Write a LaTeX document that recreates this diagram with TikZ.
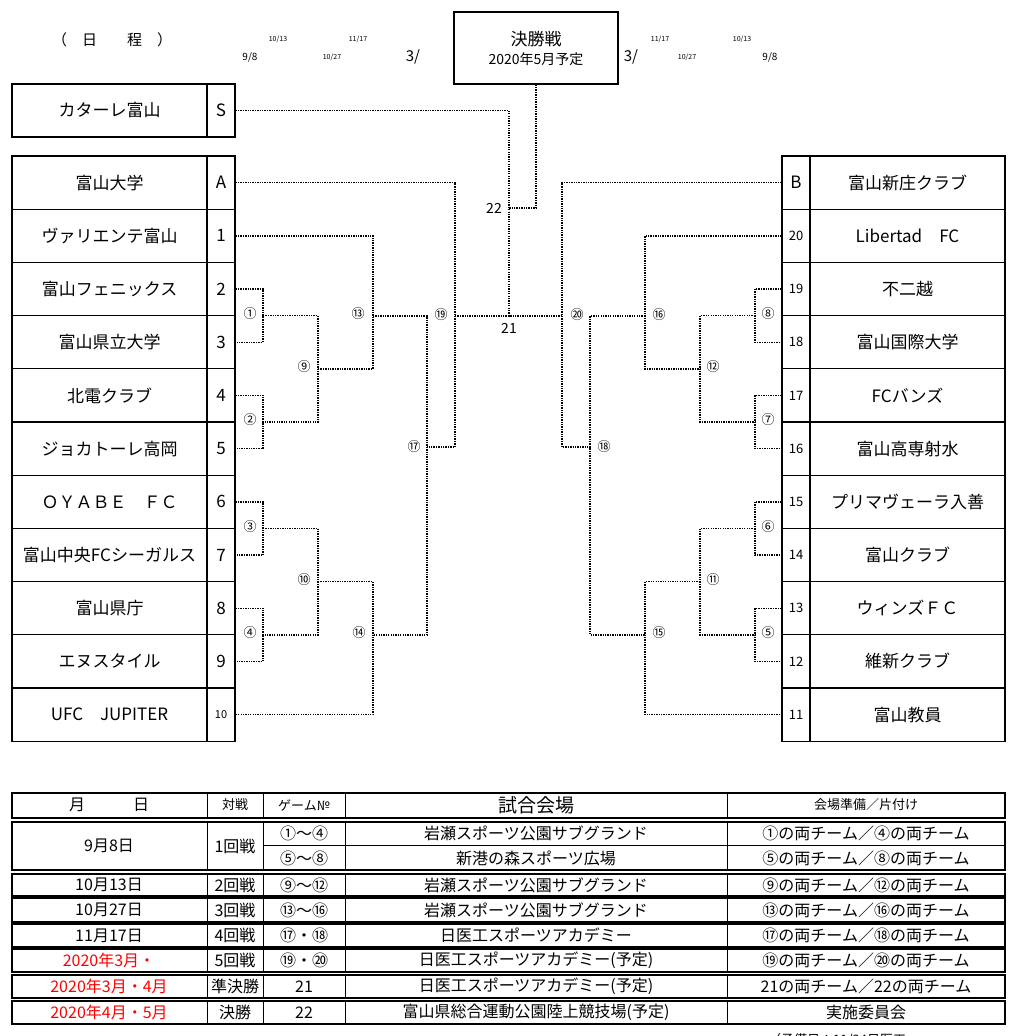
\documentclass[tikz,border=0pt]{standalone}
\usepackage{fontspec}
\setmainfont{Noto Sans CJK JP}
\begin{document}
\begin{tikzpicture}[x=1pt,y=-1pt,
  namebox/.style={draw,line width=1.3pt,minimum width=195pt,minimum height=53.2pt,inner sep=0pt,font=\fontsize{17}{19}\selectfont},
  numbox/.style={draw,line width=1.3pt,minimum width=28pt,minimum height=53.2pt,inner sep=0pt,font=\fontsize{17}{19}\selectfont},
  con/.style={line width=1.4pt,dash pattern=on 1.3pt off 1.1pt},
  lab/.style={inner sep=0pt,font=\fontsize{13}{14}\selectfont},
  sm/.style={inner sep=0pt,font=\fontsize{7}{8}\selectfont},
  cell/.style={inner sep=0pt,font=\fontsize{16}{18}\selectfont},
  tb/.style={line width=1.3pt}]
\useasboundingbox (0,0) rectangle (1031,1036);
\clip (0,0) rectangle (1031,1036);
% header
\node[inner sep=0pt,font=\fontsize{15}{17}\selectfont] (hd) at (112,40) {（　日　　程　）};
\node[sm] (d1) at (278,39) {10/13};
\node[sm] (d2) at (358,39) {11/17};
\node[inner sep=0pt,font=\fontsize{10}{11}\selectfont] (d3) at (250,57) {9/8};
\node[sm] (d4) at (332,57) {10/27};
\node[inner sep=0pt,font=\fontsize{15}{16}\selectfont] (d5) at (413,57) {3/};
\node[sm] (e1) at (660,39) {11/17};
\node[sm] (e2) at (742,39) {10/13};
\node[inner sep=0pt,font=\fontsize{15}{16}\selectfont] (e3) at (631,57) {3/};
\node[sm] (e4) at (687,57) {10/27};
\node[inner sep=0pt,font=\fontsize{10}{11}\selectfont] (e5) at (770,57) {9/8};
\node[draw,line width=1.3pt,minimum width=164pt,minimum height=72pt,inner sep=0pt,align=center] (F) at (536,48) {};
\node[inner sep=0pt,font=\fontsize{17}{19}\selectfont] (F1) at (536,39) {決勝戦};
\node[inner sep=0pt,font=\fontsize{14}{16}\selectfont] (F2) at (536,59) {2020年5月予定};
% seed S
\node[namebox] (LS) at (109.5,110.5) {カターレ富山};
\node[numbox] (LNS) at (221,110.5) {S};
% left teams
\foreach \i/\n/\t in {0/A/富山大学,1/1/ヴァリエンテ富山,2/2/富山フェニックス,3/3/富山県立大学,4/4/北電クラブ,5/5/ジョカトーレ高岡,6/6/ＯＹＡＢＥ　ＦＣ,7/7/富山中央FCシーガルス,8/8/富山県庁,9/9/エヌスタイル}{
  \node[namebox] (L\i) at (109.5,182.6+53.2*\i) {\t};
  \node[numbox] (LN\i) at (221,182.6+53.2*\i) {\n};
}
\node[namebox] (L10) at (109.5,714.6) {UFC　JUPITER};
\node[numbox,font=\fontsize{11}{13}\selectfont] (LN10) at (221,714.6) {10};
% right teams
\foreach \i/\n/\t in {0/B/富山新庄クラブ,1/20/Libertad　FC,2/19/不二越,3/18/富山国際大学,4/17/FCバンズ,5/16/富山高専射水,6/15/プリマヴェーラ入善,7/14/富山クラブ,8/13/ウィンズＦＣ,9/12/維新クラブ,10/11/富山教員}{
  \node[namebox] (R\i) at (907.5,182.6+53.2*\i) {\t};
  \node[numbox,font=\fontsize{\ifnum\i=0 17\else 13\fi}{15}\selectfont] (RN\i) at (796,182.6+53.2*\i) {\n};
}
% junctions
\coordinate (m1) at (263,315.6); \coordinate (m2) at (263,422);
\coordinate (m3) at (263,528.4); \coordinate (m4) at (263,634.8);
\coordinate (m9) at (318,368.8); \coordinate (m10) at (318,581.6);
\coordinate (m13) at (373,316); \coordinate (m14) at (373,634.8);
\coordinate (m17) at (427,447); \coordinate (m19) at (455,316);
\coordinate (m21) at (509,316); \coordinate (m22) at (509,208);
\coordinate (m20) at (562,316); \coordinate (m18) at (590,447);
\coordinate (m16) at (645,316); \coordinate (m15) at (645,634.8);
\coordinate (m12) at (700,368.8); \coordinate (m11) at (700,581.6);
\coordinate (m8) at (755,315.6); \coordinate (m7) at (755,422);
\coordinate (m6) at (755,528.4); \coordinate (m5) at (755,634.8);
% left connectors
\draw[con] (LN2.east) -| (m1) |- (LN3.east);
\draw[con] (LN4.east) -| (m2) |- (LN5.east);
\draw[con] (LN6.east) -| (m3) |- (LN7.east);
\draw[con] (LN8.east) -| (m4) |- (LN9.east);
\draw[con] (m1) -| (m9) |- (m2);
\draw[con] (m3) -| (m10) |- (m4);
\draw[con] (LN1.east) -| (m13) |- (m9);
\draw[con] (m10) -| (m14) |- (LN10.east);
\draw[con] (m13) -| (m17) |- (m14);
\draw[con] (LN0.east) -| (m19) |- (m17);
\draw[con] (LNS.east) -| (m21);
\draw[con] (m19) -- (m21) -- (m20);
\draw[con] (F.south) |- (m22);
% right connectors
\draw[con] (RN2.west) -| (m8) |- (RN3.west);
\draw[con] (RN4.west) -| (m7) |- (RN5.west);
\draw[con] (RN6.west) -| (m6) |- (RN7.west);
\draw[con] (RN8.west) -| (m5) |- (RN9.west);
\draw[con] (m8) -| (m12) |- (m7);
\draw[con] (m6) -| (m11) |- (m5);
\draw[con] (RN1.west) -| (m16) |- (m12);
\draw[con] (m11) -| (m15) |- (RN10.west);
\draw[con] (m16) -| (m18) |- (m15);
\draw[con] (RN0.west) -| (m20) |- (m18);
% labels
\node[lab] (c1) at (250,314) {①};
\node[lab] (c2) at (250,420) {②};
\node[lab] (c3) at (250,527) {③};
\node[lab] (c4) at (250,633) {④};
\node[lab] (c9) at (304,367) {⑨};
\node[lab] (c10) at (304,580) {⑩};
\node[lab] (c13) at (358,314) {⑬};
\node[lab] (c14) at (359,633) {⑭};
\node[lab] (c17) at (414,447) {⑰};
\node[lab] (c19) at (441,315) {⑲};
\node[lab] (c20) at (577,315) {⑳};
\node[lab] (c18) at (604,447) {⑱};
\node[lab] (c16) at (659,315) {⑯};
\node[lab] (c15) at (659,633) {⑮};
\node[lab] (c12) at (713,367) {⑫};
\node[lab] (c11) at (713,580) {⑪};
\node[lab] (c8) at (768,314) {⑧};
\node[lab] (c7) at (768,420) {⑦};
\node[lab] (c6) at (768,527) {⑥};
\node[lab] (c5) at (768,633) {⑤};
\node[inner sep=0pt,font=\fontsize{14}{16}\selectfont] (n22) at (494,208) {22};
\node[inner sep=0pt,font=\fontsize{14}{16}\selectfont] (n21) at (509,328) {21};
% table
\draw[tb] (12,793) rectangle (1005,818);
\draw[tb] (12,822) rectangle (1005,870);
\draw[tb] (12,874) rectangle (1005,896);
\draw[tb] (12,898) rectangle (1005,922);
\draw[tb] (12,924) rectangle (1005,947);
\draw[tb] (12,949) rectangle (1005,972);
\draw[tb] (12,975) rectangle (1005,998);
\draw[tb] (12,1001) rectangle (1005,1024);
\draw[tb] (263,845.5) -- (1005,845.5);
\foreach \y/\b in {793/818,822/870,874/896,898/922,924/947,949/972,975/998,1001/1024}{
  \foreach \x in {207,263,345,727}{ \draw[line width=1pt] (\x,\y) -- (\x,\b); }
}
\node[cell] (h1) at (109,805) {月　　　日};
\node[cell,font=\fontsize{13}{15}\selectfont] (h2) at (235,805) {対戦};
\node[cell,font=\fontsize{13}{15}\selectfont] (h3) at (304,805) {ゲーム№};
\node[cell,font=\fontsize{19}{21}\selectfont] (h4) at (536,805) {試合会場};
\node[cell,font=\fontsize{13}{15}\selectfont] (h5) at (866,805) {会場準備／片付け};
\node[cell] (a1) at (109,846) {9月8日};
\node[cell] (a2) at (235,846) {1回戦};
\node[cell] (a3) at (304,833) {①～④};
\node[cell] (a4) at (536,833) {岩瀬スポーツ公園サブグランド};
\node[cell] (a5) at (866,833) {①の両チーム／④の両チーム};
\node[cell] (b3) at (304,858) {⑤～⑧};
\node[cell] (b4) at (536,858) {新港の森スポーツ広場};
\node[cell] (b5) at (866,858) {⑤の両チーム／⑧の両チーム};
\foreach \nm/\y/\d/\r/\g/\v/\p/\c in {
 cc/885/10月13日/2回戦/⑨～⑫/岩瀬スポーツ公園サブグランド/⑨の両チーム／⑫の両チーム/black,
 dd/910/10月27日/3回戦/⑬～⑯/岩瀬スポーツ公園サブグランド/⑬の両チーム／⑯の両チーム/black,
 ee/935.5/11月17日/4回戦/⑰・⑱/日医工スポーツアカデミー/⑰の両チーム／⑱の両チーム/black,
 ff/960.5/2020年3月・/5回戦/⑲・⑳/日医工スポーツアカデミー(予定)/⑲の両チーム／⑳の両チーム/red,
 gg/986.5/2020年3月・4月/準決勝/21/日医工スポーツアカデミー(予定)/21の両チーム／22の両チーム/red,
 hh/1012.5/2020年4月・5月/決勝/22/富山県総合運動公園陸上競技場(予定)/実施委員会/red}{
  \node[cell,text=\c] (\nm1) at (109,\y) {\d};
  \node[cell] (\nm2) at (235,\y) {\r};
  \node[cell] (\nm3) at (304,\y) {\g};
  \node[cell] (\nm4) at (536,\y) {\v};
  \node[cell] (\nm5) at (866,\y) {\p};
}
\node[cell,anchor=west,font=\fontsize{13}{15}\selectfont] (note) at (768,1040) {（予備日：11/24日医工};
\end{tikzpicture}
\end{document}
